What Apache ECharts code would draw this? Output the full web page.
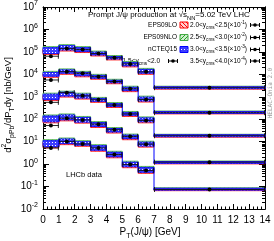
<!DOCTYPE html>
<html><head><meta charset="utf-8">
<script src="https://cdn.jsdelivr.net/npm/echarts@6/dist/echarts.min.js"></script>
<style>html,body{margin:0;padding:0;background:#fff}#c{width:274px;height:241px}</style>
</head><body><div id="c"></div><script>
// ---------------- data ----------------
const binEdges = [0, 1, 2, 3, 4, 5, 6, 7, 14];
const yTickValues = [0.01, 0.1, 1, 10, 100, 1e3, 1e4, 1e5, 1e6, 1e7];
// rows: 1.5<y<2.0, 2.0<y<2.5 (x1e-1), 2.5<y<3.0 (x1e-2), 3.0<y<3.5 (x1e-3), 3.5<y<4.0 (x1e-4)
const eps09loHi = [
  [1.33e5, 1.63e5, 1.33e5, 8.44e4, 5.35e4, 2.9e4, 1.43e4, 2.67e3],
  [1.05e4, 1.36e4, 1.05e4, 7.75e3, 4.66e3, 2.29e3, 830, 211],
  [1130, 1380, 1130, 728, 429, 172, 98.3, 19.4],
  [120, 133, 103, 61, 33.1, 16.9, 8.16, 1.25],
  [9.5, 11.3, 8.59, 5.72, 2.9, 1.05, 0.612, 0.0802]];
const eps09loLo = [
  [7.6e4, 1.09e5, 9.35e4, 6.55e4, 4.37e4, 2.14e4, 1.0e4, 2.18e3],
  [7.37e3, 1.0e4, 7.75e3, 6.02e3, 3.8e3, 1.69e3, 582, 172],
  [678, 967, 789, 564, 333, 133, 68.9, 15.8],
  [68.9, 84.4, 66.8, 42.7, 24.2, 12.2, 5.71, 1.02],
  [5.27, 7.37, 6.2, 3.73, 1.91, 0.691, 0.387, 0.0654]];
const eps09nloHi = [
  [1.72e5, 2.11e5, 1.72e5, 1.09e5, 6.89e4, 3.75e4, 1.84e4, 2.96e3],
  [1.36e4, 1.75e4, 1.36e4, 1.0e4, 6.02e3, 2.96e3, 1070, 233],
  [1450, 1780, 1450, 938, 553, 222, 127, 21.4],
  [155, 172, 133, 78.6, 42.7, 21.8, 10.5, 1.38],
  [12.3, 14.6, 11.1, 7.37, 3.73, 1.35, 0.789, 0.0888]];
const eps09nloLo = [
  [9.35e4, 1.33e5, 1.15e5, 8.0e4, 5.35e4, 2.62e4, 1.22e4, 2.41e3],
  [9.03e3, 1.22e4, 9.5e3, 7.37e3, 4.66e3, 2.07e3, 713, 190],
  [830, 1185, 967, 692, 408, 163, 84.4, 17.5],
  [84.4, 103, 81.9, 52.4, 29.6, 15.0, 7.0, 1.12],
  [6.46, 9.03, 7.6, 4.57, 2.34, 0.847, 0.475, 0.0724]];
const ncteq15Hi = [
  [1.55e5, 1.9e5, 1.55e5, 9.8e4, 6.22e4, 3.38e4, 1.66e4, 2.8e3],
  [1.22e4, 1.58e4, 1.22e4, 9.03e3, 5.44e3, 2.67e3, 967, 222],
  [1310, 1610, 1310, 847, 500, 200, 115, 20.4],
  [140, 155, 120, 71, 38.6, 19.7, 9.5, 1.31],
  [11.1, 13.2, 10, 6.66, 3.37, 1.22, 0.712, 0.0844]];
const ncteq15Lo = [
  [8.44e4, 1.21e5, 1.03e5, 7.25e4, 4.83e4, 2.37e4, 1.11e4, 2.3e3],
  [8.16e3, 1.11e4, 8.6e3, 6.66e3, 4.21e3, 1.87e3, 644, 181],
  [750, 1070, 874, 625, 368, 148, 76.2, 16.6],
  [76.2, 93.4, 73.9, 47.3, 26.8, 13.6, 6.33, 1.07],
  [5.84, 8.16, 6.87, 4.13, 2.11, 0.765, 0.429, 0.0689]];
const lhcbData = [
  [6.4e4, 1.40e5, 1.27e5, 8.44e4, 5.45e4, 2.9e4, 1.29e4, 2.54e3],
  [5.6e3, 1.32e4, 1.11e4, 7.9e3, 4.76e3, 2.29e3, 750, 196],
  [564, 1530, 1100, 735, 429, 172, 88.8, 18.4],
  [52.4, 111, 93.4, 60.4, 33.8, 17.1, 7.75, 1.22],
  [5.27, 10.3, 7.92, 5.27, 2.67, 0.967, 0.525, 0.0739]];
const lhcbRelErr = [0.12, 0.08, 0.08, 0.08, 0.08, 0.1, 0.12, 0.12];
const modelNames = ['EPS09LO', 'EPS09NLO', 'nCTEQ15'];
const rapidityLabels = ['1.5<y{sub|cms}<2.0', '2.0<y{sub|cms}<2.5(×10{sup|-1})', '2.5<y{sub|cms}<3.0(×10{sup|-2})', '3.0<y{sub|cms}<3.5(×10{sup|-3})', '3.5<y{sub|cms}<4.0(×10{sup|-4})'];

// ---------------- styles ----------------
const FONT = 'Liberation Sans, Arial, Helvetica, sans-serif';
function mkPattern(draw, w, h){ const c=document.createElement('canvas'); c.width=w; c.height=h; const g=c.getContext('2d'); draw(g,w,h); return {image:c, repeat:'repeat'}; }
const redPat = mkPattern((g,w,h)=>{ g.fillStyle='#ffd0d0'; g.fillRect(0,0,w,h); g.strokeStyle='#ff0000'; g.lineWidth=1; g.beginPath(); g.moveTo(0,0); g.lineTo(w,h); g.stroke(); }, 4, 4);
const greenPat = mkPattern((g,w,h)=>{ g.fillStyle='#cfeccf'; g.fillRect(0,0,w,h); g.strokeStyle='#22aa22'; g.lineWidth=1; g.beginPath(); g.moveTo(0,h); g.lineTo(w,0); g.stroke(); }, 4, 4);
const bluePat = mkPattern((g,w,h)=>{ g.fillStyle='#3c3cff'; g.fillRect(0,0,w,h); g.fillStyle='#ffffff'; g.fillRect(1,1,1,1); }, 3, 3);
const modelStyles = [
  {fill: redPat, stroke: '#ff0000'},
  {fill: greenPat, stroke: '#44aa44'},
  {fill: bluePat, stroke: '#0000ff'}];

// ---------------- series ----------------
function bandSeries(lo, hi, st, z, connect){
  const data = [];
  lo.forEach((row,g)=>row.forEach((l,i)=>{
    const nl = i < row.length-1 ? row[i+1] : l, nh = i < row.length-1 ? hi[g][i+1] : hi[g][i];
    data.push([binEdges[i], binEdges[i+1], l, hi[g][i], nl, nh]);
  }));
  return {type:'custom', z, silent:true, data, encode:{x:[0,1], y:[2,3]},
    renderItem(params, api){
      const p0 = api.coord([api.value(0), api.value(3)]);
      const p1 = api.coord([api.value(1), api.value(2)]);
      const children = [{type:'rect', shape:{x:p0[0], y:p0[1], width:p1[0]-p0[0], height:p1[1]-p0[1]},
        style:{fill:st.fill, stroke:st.stroke, lineWidth:0.8}}];
      if (connect) {
        const a = api.coord([api.value(1), api.value(3)]), b = api.coord([api.value(1), api.value(5)]);
        const c = api.coord([api.value(1), api.value(2)]), d = api.coord([api.value(1), api.value(4)]);
        const ys = [a[1], b[1], c[1], d[1]];
        children.push({type:'line', shape:{x1:a[0], y1:Math.min(...ys), x2:a[0], y2:Math.max(...ys)}, style:{stroke:st.stroke, lineWidth:1}});
      }
      return {type:'group', children};
    }};
}
const series = [
  bandSeries(eps09nloLo, eps09nloHi, modelStyles[1], 2, false),
  bandSeries(eps09loLo, eps09loHi, modelStyles[0], 3, false),
  bandSeries(ncteq15Lo, ncteq15Hi, modelStyles[2], 4, true)];
const dataItems = [];
lhcbData.forEach(row=>row.forEach((v,i)=>dataItems.push([binEdges[i], binEdges[i+1], v, v*lhcbRelErr[i]])));
series.push({type:'custom', z:10, silent:true, data:dataItems, encode:{x:[0,1], y:2},
  renderItem(params, api){
    const x0=api.value(0), x1=api.value(1), y=api.value(2), e=api.value(3);
    const a=api.coord([x0,y]), b=api.coord([x1,y]);
    const c=api.coord([(x0+x1)/2, y+e]), d=api.coord([(x0+x1)/2, y-e]);
    const ls={stroke:'#111', lineWidth:0.9};
    return {type:'group', children:[
      {type:'line', shape:{x1:a[0],y1:a[1],x2:b[0],y2:b[1]}, style:ls},
      {type:'line', shape:{x1:a[0]+0.5,y1:a[1]-2.5,x2:a[0]+0.5,y2:a[1]+2.5}, style:ls},
      {type:'line', shape:{x1:b[0]-0.5,y1:b[1]-2.5,x2:b[0]-0.5,y2:b[1]+2.5}, style:ls},
      {type:'line', shape:{x1:c[0],y1:c[1],x2:d[0],y2:d[1]}, style:ls},
      {type:'circle', shape:{cx:c[0], cy:a[1], r:2}, style:{fill:'#000'}}]};
  }});

// ---------------- axes ----------------
const minorY = [];
for (let e=-2; e<7; e++) for (let m=2; m<=9; m++) minorY.push(m*Math.pow(10,e));
const supRich = {b:{fontSize:10, lineHeight:14, fontFamily:FONT, color:'#000'}, s:{fontSize:7, lineHeight:7, verticalAlign:'top', fontFamily:FONT, color:'#000'}};
function yAx(pos, label, ticks, len){
  return {type:'log', logBase:10, min:0.01, max:1e7, position:pos, gridIndex:0,
    axisLine:{show:true, onZero:false, lineStyle:{color:'#000', width:1}},
    axisTick:{show:true, inside:true, length:len, customValues:ticks, lineStyle:{color:'#000', width:1}},
    axisLabel:{show:label, customValues:yTickValues, margin:5, formatter:v=>'{b|10}{s|'+Math.round(Math.log10(v))+'}', rich:supRich},
    splitLine:{show:false}, minorTick:{show:false}};
}
function xAx(pos, label){
  return {type:'value', min:0, max:14, interval:1, position:pos, gridIndex:0,
    axisLine:{show:true, onZero:false, lineStyle:{color:'#000', width:1}},
    axisTick:{show:true, inside:true, length:5, lineStyle:{color:'#000'}},
    minorTick:{show:true, splitNumber:4, length:2.5, lineStyle:{color:'#000'}},
    axisLabel:{show:label, margin:6, fontSize:10, fontFamily:FONT, color:'#000'},
    splitLine:{show:false}, minorSplitLine:{show:false}};
}

// ---------------- texts / legend ----------------
const smallRich = (fs)=>({sub:{fontSize:fs*0.72, lineHeight:fs*0.7, verticalAlign:'bottom', fontFamily:FONT, fill:'#000'},
  sup:{fontSize:fs*0.72, lineHeight:fs*0.7, verticalAlign:'top', fontFamily:FONT, fill:'#000'}});
function txt(x, y, text, fs, align, extra){
  return Object.assign({type:'text', x, y, silent:true, style:{text, fontSize:fs, fontFamily:FONT, fill:'#000', lineHeight:fs*1.5,
    align:align||'left', verticalAlign:'middle', rich:smallRich(fs)}}, extra||{});
}
function marker(cx, cy){
  const ls={stroke:'#000', lineWidth:1};
  return {type:'group', silent:true, children:[
    {type:'line', shape:{x1:cx-5,y1:cy,x2:cx+5,y2:cy}, style:ls},
    {type:'line', shape:{x1:cx-4.5,y1:cy-2,x2:cx-4.5,y2:cy+2}, style:ls},
    {type:'line', shape:{x1:cx+4.5,y1:cy-2,x2:cx+4.5,y2:cy+2}, style:ls},
    {type:'circle', shape:{cx, cy, r:1.8}, style:{fill:'#000'}}]};
}
const rowsY = [25, 37.5, 49.5, 61];
const graphics = [
  txt(88, 15, 'Prompt J/ψ production at √s{sub|NN}=5.02 TeV LHC', 8),
  txt(66, 175, 'LHCb data', 7.5),
  txt(150, 232, 'P{sub|T}(J/ψ) [GeV]', 10, 'center'),
  txt(8, 105, 'd{sup|2}σ{sub|pPb}/dP{sub|T}dy [nb/GeV]', 9.5, 'center', {rotation:Math.PI/2}),
  {type:'text', x:270, y:93, rotation:Math.PI/2, silent:true, style:{text:'HELAC-Onia 2.0', fontSize:6, fontFamily:'DejaVu Sans Mono', fill:'#999', align:'center', verticalAlign:'middle'}}
];
modelNames.forEach((n,i)=>{
  graphics.push(txt(177, rowsY[i], n, 6.5, 'right'));
  graphics.push({type:'rect', silent:true, shape:{x:180, y:rowsY[i]-3, width:8, height:6}, style:{fill:modelStyles[i].fill, stroke:modelStyles[i].stroke, lineWidth:1}});
});
graphics.push(txt(160, rowsY[3], rapidityLabels[0], 6.5, 'right'));
graphics.push(marker(173, rowsY[3]));
for (let i=1;i<5;i++){
  graphics.push(txt(190, rowsY[i-1], rapidityLabels[i], 6.5, 'left'));
  graphics.push(marker(255, rowsY[i-1]));
}

const chart = echarts.init(document.getElementById('c'), null, {renderer:'canvas', width:274, height:241});
chart.setOption({
  animation:false,
  grid:{left:43, right:9, top:5, bottom:32, containLabel:false, show:false},
  xAxis:[xAx('bottom', true), xAx('top', false)],
  yAxis:[yAx('left', true, yTickValues, 6), yAx('left', false, minorY, 3), yAx('right', false, yTickValues, 6), yAx('right', false, minorY, 3)],
  series,
  graphic:graphics
});
</script></body></html>
